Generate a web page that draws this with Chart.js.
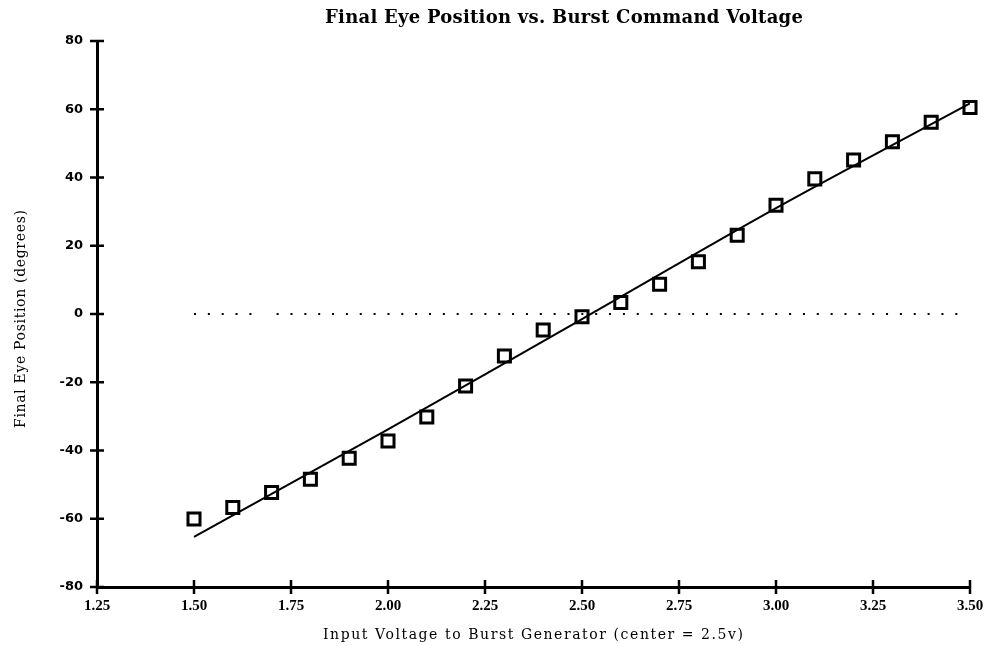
<!DOCTYPE html>
<html>
<head>
<meta charset="utf-8">
<script src="https://cdn.jsdelivr.net/npm/chart.js@4/dist/chart.umd.min.js"></script>
<style>
  html, body { margin: 0; padding: 0; background: #fff; }
  #wrap { width: 994px; height: 646px; }
</style>
</head>
<body>
<div id="wrap"><canvas id="c" width="994" height="646"></canvas></div>
<script>
// ---- data ----
const chartTitle = 'Final Eye Position vs. Burst Command Voltage';
const xTitle = 'Input Voltage to Burst Generator (center = 2.5v)';
const yTitle = 'Final Eye Position (degrees)';
const voltages = [1.5, 1.6, 1.7, 1.8, 1.9, 2.0, 2.1, 2.2, 2.3, 2.4, 2.5, 2.6, 2.7, 2.8, 2.9, 3.0, 3.1, 3.2, 3.3, 3.4, 3.5];
const eyePos   = [-60.1, -56.7, -52.3, -48.4, -42.3, -37.2, -30.2, -21.1, -12.3, -4.7, -0.8, 3.4, 8.7, 15.3, 23.1, 31.9, 39.6, 45.1, 50.5, 56.2, 60.5];
const fitX = [1.5, 2.0, 2.5, 3.0, 3.5];
const fitY = [-65.3, -33.8, -1.5, 31.0, 61.7];
const zeroLineX = [1.5, 1.65, null, 1.713, 3.47];
const xTicks = [1.25, 1.50, 1.75, 2.00, 2.25, 2.50, 2.75, 3.00, 3.25, 3.50];
const yTicks = [-80, -60, -40, -20, 0, 20, 40, 60, 80];

const scatterData = voltages.map((v, i) => ({ x: v, y: eyePos[i] }));
const fitData = fitX.map((v, i) => ({ x: v, y: fitY[i] }));
const zeroData = zeroLineX.map(v => v === null ? { x: null, y: null } : { x: v, y: 0 });

const crossTicks = {
  id: 'crossTicks',
  afterDatasetsDraw(chart) {
    const ctx = chart.ctx;
    const xs = chart.scales.x, ys = chart.scales.y;
    const ca = chart.chartArea;
    ctx.save();
    ctx.strokeStyle = '#000';
    ctx.lineWidth = 2.5;
    ctx.beginPath();
    xTicks.forEach(v => {
      const px = xs.getPixelForValue(v);
      ctx.moveTo(px, ca.bottom - 7);
      ctx.lineTo(px, ca.bottom + 7);
    });
    yTicks.forEach(v => {
      const py = ys.getPixelForValue(v);
      ctx.moveTo(ca.left - 7, py);
      ctx.lineTo(ca.left + 7, py);
    });
    ctx.stroke();
    ctx.restore();
  }
};

function fitSpacing(ctx, text, font, target) {
  ctx.font = font;
  ctx.letterSpacing = '0px';
  const w = ctx.measureText(text).width;
  const sp = (target - w) / (text.length - 1);
  ctx.letterSpacing = sp.toFixed(2) + 'px';
}

const texts = {
  id: 'texts',
  afterDraw(chart) {
    const ctx = chart.ctx;
    ctx.save();
    ctx.fillStyle = '#000';
    ctx.textBaseline = 'middle';
    ctx.textAlign = 'left';
    fitSpacing(ctx, chartTitle, 'bold 18px "DejaVu Serif"', 478);
    ctx.fillText(chartTitle, 325, 18);
    fitSpacing(ctx, xTitle, '14px "DejaVu Serif"', 420);
    ctx.fillText(xTitle, 323, 635);
    ctx.translate(21, 428);
    ctx.rotate(-Math.PI / 2);
    fitSpacing(ctx, yTitle, '14px "DejaVu Serif"', 218);
    ctx.fillText(yTitle, 0, 0);
    ctx.restore();
  }
};

new Chart(document.getElementById('c'), {
  type: 'scatter',
  data: {
    datasets: [
      {
        label: 'zero',
        data: zeroData,
        showLine: true,
        spanGaps: false,
        borderColor: '#000',
        borderWidth: 2,
        borderDash: [2, 11.85],
        pointRadius: 0,
        fill: false
      },
      {
        label: 'fit',
        data: fitData,
        showLine: true,
        borderColor: '#000',
        borderWidth: 2,
        tension: 0.3,
        pointRadius: 0,
        fill: false
      },
      {
        label: 'measured',
        data: scatterData,
        showLine: false,
        clip: false,
        pointStyle: 'rect',
        pointRadius: 8.5,
        pointBorderWidth: 3,
        pointBorderColor: '#000',
        pointBackgroundColor: 'rgba(0,0,0,0)'
      }
    ]
  },
  options: {
    responsive: false,
    animation: false,
    events: [],
    layout: { padding: { top: 41, right: 24, left: 0, bottom: 0 } },
    plugins: {
      legend: { display: false },
      title: { display: false },
      tooltip: { enabled: false }
    },
    scales: {
      x: {
        type: 'linear',
        min: 1.25, max: 3.5,
        afterBuildTicks(s) { s.ticks = xTicks.map(v => ({ value: v })); },
        afterFit(s) { s.height = 59; },
        grid: { display: false, drawTicks: false, tickLength: 0 },
        border: { display: true, color: '#000', width: 3 },
        ticks: {
          color: '#000',
          padding: 10,
          font: { family: '"Liberation Serif"', size: 15, weight: 'bold' },
          callback: v => Number(v).toFixed(2),
          maxRotation: 0
        }
      },
      y: {
        type: 'linear',
        min: -80, max: 80,
        afterBuildTicks(s) { s.ticks = yTicks.map(v => ({ value: v })); },
        afterFit(s) { s.width = 97; },
        grid: { display: false, drawTicks: false, tickLength: 0 },
        border: { display: true, color: '#000', width: 3 },
        ticks: {
          color: '#000',
          padding: 14,
          font: { family: '"DejaVu Sans"', size: 13, weight: 'bold' },
          callback: v => String(v)
        }
      }
    }
  },
  plugins: [crossTicks, texts]
});
</script>
</body>
</html>
